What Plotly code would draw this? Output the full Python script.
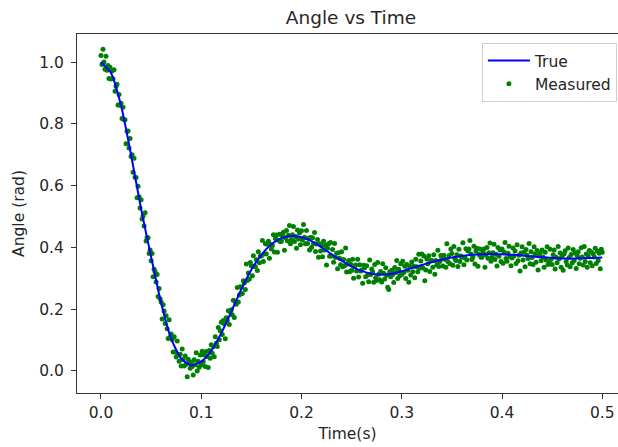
import numpy as np
import plotly.graph_objects as go

# Model response sampled every 10 ms (0.00 ... 0.50 s)
true_time = [round(0.01 * k, 2) for k in range(51)]
true_angle = [
    1.000, 0.965, 0.860, 0.700, 0.525, 0.370, 0.220, 0.105, 0.040, 0.018,
    0.030, 0.065, 0.122, 0.192, 0.265, 0.328, 0.376, 0.410, 0.430, 0.437,
    0.433, 0.420, 0.400, 0.378, 0.357, 0.338, 0.324, 0.315, 0.312, 0.315,
    0.323, 0.333, 0.343, 0.352, 0.360, 0.367, 0.372, 0.376, 0.378, 0.379,
    0.378, 0.376, 0.374, 0.371, 0.368, 0.366, 0.364, 0.364, 0.365, 0.366,
    0.367,
]

# Sensor readings, one sample per millisecond (0.000 ... 0.500 s)
measured_angle = [
    1.021, 0.992, 1.042, 1.000, 0.977, 1.019, 0.974, 0.989, 0.947, 0.983,
    0.945, 0.971, 0.946, 0.975, 0.906, 0.922, 0.928, 0.861, 0.895, 0.860,
    0.867, 0.817, 0.854, 0.813, 0.813, 0.736, 0.776, 0.777, 0.722, 0.753,
    0.694, 0.700, 0.643, 0.689, 0.627, 0.626, 0.561, 0.598, 0.564, 0.528,
    0.554, 0.492, 0.502, 0.469, 0.512, 0.421, 0.432, 0.431, 0.380, 0.392,
    0.357, 0.380, 0.305, 0.329, 0.321, 0.288, 0.312, 0.241, 0.267, 0.234,
    0.223, 0.168, 0.214, 0.194, 0.154, 0.179, 0.137, 0.105, 0.166, 0.110,
    0.120, 0.102, 0.061, 0.111, 0.061, 0.045, 0.097, 0.054, 0.031, 0.054,
    0.016, 0.071, 0.037, 0.016, 0.048, 0.022, -0.019, 0.038, 0.027, 0.009,
    0.029, 0.014, -0.013, 0.036, 0.020, 0.059, 0.000, 0.031, 0.012, 0.052,
    0.019, 0.064, 0.030, 0.052, 0.014, 0.063, 0.047, 0.011, 0.066, 0.041,
    0.085, 0.057, 0.079, 0.046, 0.111, 0.090, 0.079, 0.141, 0.101, 0.130,
    0.158, 0.118, 0.163, 0.153, 0.104, 0.172, 0.163, 0.195, 0.150, 0.192,
    0.198, 0.182, 0.229, 0.173, 0.224, 0.216, 0.270, 0.223, 0.246, 0.273,
    0.271, 0.251, 0.292, 0.285, 0.264, 0.346, 0.293, 0.317, 0.298, 0.351,
    0.341, 0.308, 0.373, 0.339, 0.337, 0.360, 0.325, 0.386, 0.350, 0.372,
    0.372, 0.422, 0.354, 0.379, 0.412, 0.379, 0.410, 0.420, 0.365, 0.410,
    0.395, 0.406, 0.441, 0.385, 0.429, 0.440, 0.384, 0.423, 0.443, 0.418,
    0.420, 0.438, 0.449, 0.391, 0.431, 0.455, 0.421, 0.439, 0.471, 0.412,
    0.426, 0.441, 0.468, 0.419, 0.435, 0.397, 0.456, 0.427, 0.447, 0.409,
    0.454, 0.424, 0.474, 0.433, 0.412, 0.455, 0.413, 0.430, 0.392, 0.432,
    0.400, 0.431, 0.412, 0.448, 0.387, 0.411, 0.426, 0.368, 0.412, 0.388,
    0.407, 0.370, 0.420, 0.392, 0.406, 0.343, 0.397, 0.412, 0.371, 0.416,
    0.372, 0.393, 0.352, 0.413, 0.367, 0.381, 0.331, 0.383, 0.365, 0.344,
    0.386, 0.337, 0.361, 0.341, 0.398, 0.320, 0.346, 0.358, 0.321, 0.346,
    0.325, 0.362, 0.300, 0.338, 0.343, 0.324, 0.362, 0.304, 0.344, 0.324,
    0.327, 0.284, 0.342, 0.334, 0.305, 0.341, 0.311, 0.289, 0.359, 0.312,
    0.330, 0.321, 0.287, 0.345, 0.302, 0.293, 0.351, 0.313, 0.295, 0.322,
    0.288, 0.347, 0.316, 0.298, 0.334, 0.310, 0.271, 0.264, 0.321, 0.305,
    0.326, 0.312, 0.286, 0.335, 0.319, 0.358, 0.299, 0.329, 0.308, 0.347,
    0.312, 0.355, 0.319, 0.339, 0.299, 0.345, 0.326, 0.287, 0.339, 0.311,
    0.353, 0.321, 0.339, 0.302, 0.362, 0.337, 0.321, 0.378, 0.333, 0.356,
    0.379, 0.333, 0.372, 0.292, 0.327, 0.363, 0.347, 0.373, 0.322, 0.358,
    0.358, 0.336, 0.376, 0.313, 0.358, 0.343, 0.391, 0.338, 0.354, 0.374,
    0.366, 0.340, 0.375, 0.362, 0.336, 0.412, 0.354, 0.373, 0.347, 0.395,
    0.380, 0.342, 0.403, 0.364, 0.358, 0.376, 0.338, 0.394, 0.354, 0.372,
    0.368, 0.415, 0.344, 0.366, 0.396, 0.359, 0.388, 0.395, 0.422, 0.379,
    0.361, 0.370, 0.404, 0.346, 0.388, 0.397, 0.339, 0.377, 0.395, 0.368,
    0.368, 0.385, 0.395, 0.336, 0.376, 0.400, 0.365, 0.383, 0.414, 0.355,
    0.368, 0.383, 0.410, 0.361, 0.378, 0.340, 0.400, 0.371, 0.392, 0.354,
    0.395, 0.349, 0.385, 0.416, 0.364, 0.355, 0.381, 0.404, 0.370, 0.341,
    0.366, 0.398, 0.372, 0.388, 0.348, 0.409, 0.357, 0.375, 0.324, 0.382,
    0.402, 0.359, 0.384, 0.337, 0.393, 0.375, 0.364, 0.413, 0.347, 0.386,
    0.367, 0.345, 0.402, 0.379, 0.352, 0.390, 0.327, 0.374, 0.382, 0.357,
    0.392, 0.368, 0.336, 0.384, 0.359, 0.402, 0.345, 0.353, 0.394, 0.362,
    0.345, 0.376, 0.392, 0.330, 0.368, 0.350, 0.403, 0.363, 0.382, 0.336,
    0.372, 0.326, 0.379, 0.389, 0.354, 0.343, 0.398, 0.367, 0.337, 0.377,
    0.350, 0.393, 0.358, 0.382, 0.332, 0.374, 0.386, 0.347, 0.365, 0.399,
    0.369, 0.343, 0.403, 0.354, 0.379, 0.336, 0.372, 0.390, 0.350, 0.385,
    0.341, 0.379, 0.369, 0.397, 0.348, 0.388, 0.358, 0.381, 0.331, 0.394,
    0.384,
]
sample_period = 0.001
measured_time = np.arange(len(measured_angle)) * sample_period

x_ticks = [0.0, 0.1, 0.2, 0.3, 0.4, 0.5]
y_ticks = [0.0, 0.2, 0.4, 0.6, 0.8, 1.0]

FONT = "DejaVu Sans"
TEXT = "#262626"
AXIS = "#333333"
BASE = 15.5

fig = go.Figure()
fig.add_trace(go.Scatter(
    x=measured_time, y=measured_angle, mode="markers", name="Measured",
    marker=dict(color="#008000", size=5, line=dict(width=0)),
    legendrank=2,
))
fig.add_trace(go.Scatter(
    x=true_time, y=true_angle, mode="lines", name="True",
    line=dict(color="#0000ff", width=2, shape="spline", smoothing=0.6),
    legendrank=1,
))

fig.update_layout(
    width=618, height=447,
    margin=dict(l=77, r=0, t=34, b=54),
    paper_bgcolor="white", plot_bgcolor="white",
    font=dict(family=FONT, size=BASE, color=TEXT),
    title=dict(text="Angle vs Time", x=351 / 618, xanchor="center",
               xref="container", y=1 - 18 / 447, yanchor="middle",
               yref="container", font=dict(size=18.5, color=TEXT)),
    showlegend=True,
    legend=dict(x=0.998, y=0.975, xanchor="right", yanchor="top",
                bgcolor="rgba(255,255,255,0.8)", bordercolor="#d0d0d0",
                borderwidth=1, font=dict(size=BASE, color=TEXT),
                itemwidth=42),
)
fig.update_xaxes(
    range=[-0.0239, 0.5157], tickvals=x_ticks, tickformat=".1f",
    showgrid=False, zeroline=False, showline=True, linecolor=AXIS,
    linewidth=1.1, mirror=True, ticks="outside", ticklen=5, tickwidth=1.1,
    tickcolor=AXIS, tickfont=dict(size=BASE, color=TEXT),
    title=dict(text="Time(s)", font=dict(size=BASE, color=TEXT), standoff=7),
)
fig.update_yaxes(
    range=[-0.0714, 1.091], tickvals=y_ticks, tickformat=".1f",
    showgrid=False, zeroline=False, showline=True, linecolor=AXIS,
    linewidth=1.1, mirror=False, ticks="outside", ticklen=5, tickwidth=1.1,
    tickcolor=AXIS, tickfont=dict(size=BASE, color=TEXT),
    ticklabelstandoff=4,
    title=dict(text="Angle (rad)", font=dict(size=BASE, color=TEXT), standoff=10),
)

fig.write_html("out.html")
